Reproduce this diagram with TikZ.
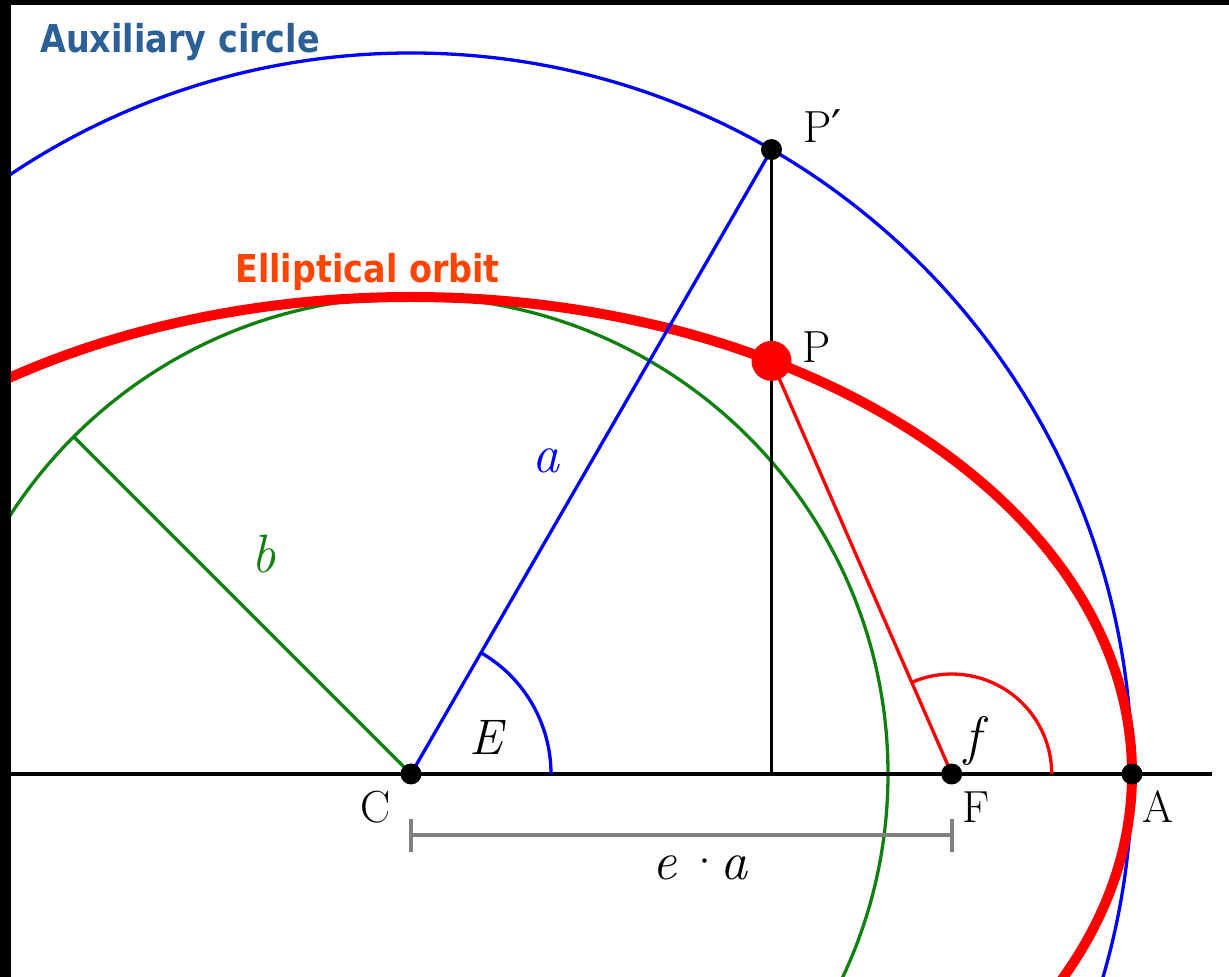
\documentclass[tikz,border=0pt]{standalone}
\usepackage{fontspec}
\newfontfamily\labelfont[FakeStretch=0.87]{DejaVu Sans}
\newfontfamily\primefont{DejaVu Serif}
\usetikzlibrary{calc}
\definecolor{auxblue}{RGB}{44,95,150}
\definecolor{orbitred}{RGB}{255,69,0}
\definecolor{bgreen}{RGB}{16,128,16}
\definecolor{bargray}{RGB}{128,128,128}
\tikzset{
  thinline/.style={line width=3.3pt},
  axisline/.style={line width=3.6pt, black},
  dot/.style={circle, fill=black, inner sep=0pt, minimum size=21pt},
  bigdot/.style={circle, fill=red, inner sep=0pt, minimum size=40pt},
  rmlabel/.style={inner sep=0pt, font=\fontsize{45}{54}\selectfont},
  itlabel/.style={inner sep=0pt, font=\fontsize{54}{60}\selectfont\itshape},
  titlelabel/.style={inner sep=0pt, font=\fontsize{38.4}{44}\selectfont\labelfont\bfseries},
}
\begin{document}
\begin{tikzpicture}[x=1pt,y=1pt]
\useasboundingbox (-411,-203) rectangle (818,774);
\fill[black] (-411,-203) rectangle (-400,774);
\fill[black] (-411,769) rectangle (818,774);

% points
\coordinate (C) at (0,0);
\coordinate (A) at (721,0);
\coordinate (F) at (540.7,0);
\coordinate (Pp) at (360.5,624.4);
\coordinate (P) at (360.5,413.1);
\coordinate (Pfoot) at (360.5,0);
\coordinate (Bt) at (135:477);
\coordinate (axL) at (-400,0);
\coordinate (axR) at (801,0);
\coordinate (Earc) at (140,0);
\coordinate (farc) at (640.7,0);
\coordinate (barL) at (0,-61);
\coordinate (barR) at (540.7,-61);
\coordinate (tLt) at (0,-45);
\coordinate (tLb) at (0,-78);
\coordinate (tRt) at (540.7,-45);
\coordinate (tRb) at (540.7,-78);

\begin{scope}
\clip (-400,-203) rectangle (818,769);
\draw[blue, thinline] (C) circle[radius=721];
\draw[bgreen, thinline] (C) circle[radius=477];
\draw[red, line width=10pt] (C) ellipse[x radius=721, y radius=477];
\end{scope}

\draw[axisline] (axL) -- (axR);
\draw[bgreen, thinline] (C) -- (Bt);
\draw[blue, thinline] (C) -- (Pp);
\draw[axisline] (Pp) -- (Pfoot);
\draw[red, thinline] (P) -- (F);
\draw[blue, thinline] (Earc) arc[start angle=0, end angle=60, radius=140];
\draw[red, thinline] (farc) arc[start angle=0, end angle=113.57, radius=100];

\draw[bargray, line width=3.6pt] (barL) -- (barR);
\draw[bargray, line width=3.6pt] (tLt) -- (tLb);
\draw[bargray, line width=3.6pt] (tRt) -- (tRb);

\node[dot] (Cd) at (C) {};
\node[dot] (Fd) at (F) {};
\node[dot] (Ad) at (A) {};
\node[dot] (Ppd) at (Pp) {};
\node[bigdot] (Pd) at (P) {};

% labels
\node[titlelabel, text=auxblue, anchor=base west] (auxlab) at (-371,721) {Auxiliary circle};
\node[titlelabel, text=orbitred, anchor=base west] (orblab) at (-176,491) {Elliptical orbit};
\node[rmlabel, anchor=base west] (Pplab) at (392,631) {P{\primefont ′}};
\node[rmlabel, anchor=base west] (Plab) at (391,411) {P};
\node[rmlabel, anchor=base] (Clab) at (-35,-49) {C};
\node[rmlabel, anchor=base west] (Flab) at (551,-49) {F};
\node[rmlabel, anchor=base west] (Alab) at (731,-49) {A};
\node[itlabel, anchor=base, font=\fontsize{50}{60}\selectfont\itshape] (Elab) at (75,19) {E};
\node[itlabel, anchor=base, text=blue] (alab) at (135,301) {a};
\node[itlabel, anchor=base, text=bgreen] (blab) at (-147,201) {b};
\node[itlabel, anchor=base west] (flab) at (553,19) {f};
\node[itlabel, anchor=base west] (ealab) at (241,-106) {e\,\textup{·}\kern-4pt a};
\end{tikzpicture}
\end{document}
